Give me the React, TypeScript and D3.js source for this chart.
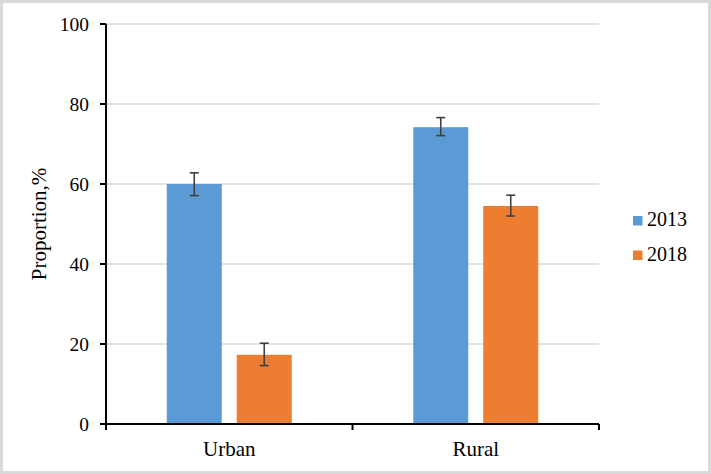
import * as d3 from 'd3'

const categories = ['Urban', 'Rural']
const seriesNames = ['2013', '2018']
const values2013 = [60, 74.2]
const values2018 = [17.3, 54.5]
const errLow2013 = [57.1, 72.1]
const errHigh2013 = [62.8, 76.6]
const errLow2018 = [14.6, 52]
const errHigh2018 = [20.2, 57.2]
const yTicks = [0, 20, 40, 60, 80, 100]

const colors = ['#5B9BD5', '#ED7D31']
const font = '"Liberation Serif", "Times New Roman", serif'

export default function App() {
  const width = 711
  const height = 474
  const margin = { top: 24, right: 112, bottom: 50, left: 106 }

  const x = d3.scaleBand()
    .domain(categories)
    .range([margin.left, width - margin.right])
    .padding(0)

  // two bars per category, 55px wide with a 15px gap
  const groupWidth = x.bandwidth() * 0.507
  const xs = d3.scaleBand()
    .domain(seriesNames)
    .range([-groupWidth / 2, groupWidth / 2])
    .paddingInner(0.214)
    .paddingOuter(0)

  const y = d3.scaleLinear()
    .domain([0, 100])
    .range([height - margin.bottom, margin.top])

  const series = [
    { name: '2013', values: values2013, lo: errLow2013, hi: errHigh2013 },
    { name: '2018', values: values2018, lo: errLow2018, hi: errHigh2018 },
  ]

  const x0 = margin.left
  const x1 = width - margin.right
  const y0 = y(0)
  const cap = 4.5

  return (
    <svg width={width} height={height} style={{ position: 'absolute', left: 0, top: 0 }}>
      <rect x={0} y={0} width={width} height={height} fill="#fff" />
      <rect x={1.5} y={1.5} width={width - 3} height={height - 3} fill="none" stroke="#d9d9d9" strokeWidth={3} />

      {/* gridlines */}
      {yTicks.filter(t => t > 0).map(t => (
        <line key={t} x1={x0} x2={x1} y1={y(t)} y2={y(t)} stroke="#d9d9d9" strokeWidth={1.5} />
      ))}

      {/* bars */}
      {series.map((s, si) => categories.map((c, ci) => {
        const cx = (x(c) as number) + x.bandwidth() / 2
        const bx = cx + (xs(s.name) as number)
        return (
          <rect key={s.name + c} x={bx} y={y(s.values[ci])} width={xs.bandwidth()}
            height={y0 - y(s.values[ci])} fill={colors[si]} />
        )
      }))}

      {/* error bars */}
      {series.map(s => categories.map((c, ci) => {
        const cx = (x(c) as number) + x.bandwidth() / 2 + (xs(s.name) as number) + xs.bandwidth() / 2
        return (
          <g key={'e' + s.name + c} stroke="#404040" strokeWidth={1.6}>
            <line x1={cx} x2={cx} y1={y(s.hi[ci])} y2={y(s.lo[ci])} />
            <line x1={cx - cap} x2={cx + cap} y1={y(s.hi[ci])} y2={y(s.hi[ci])} />
            <line x1={cx - cap} x2={cx + cap} y1={y(s.lo[ci])} y2={y(s.lo[ci])} />
          </g>
        )
      }))}

      {/* y axis */}
      <line x1={x0} x2={x0} y1={y(100)} y2={y0 + 6} stroke="#000" strokeWidth={2} />
      {yTicks.map(t => (
        <g key={'yt' + t}>
          <line x1={x0 - 6} x2={x0} y1={y(t)} y2={y(t)} stroke="#000" strokeWidth={2} />
          <text x={x0 - 17} y={y(t) + 7} textAnchor="end" fontFamily={font} fontSize={19.5} fill="#000">{t}</text>
        </g>
      ))}

      {/* x axis */}
      <line x1={x0 - 6} x2={x1} y1={y0} y2={y0} stroke="#000" strokeWidth={2} />
      {[...categories.map(c => x(c) as number), x1].map((v, i) => (
        <line key={'xt' + i} x1={v} x2={v} y1={y0} y2={y0 + 6} stroke="#000" strokeWidth={2} />
      ))}
      {categories.map(c => (
        <text key={'xl' + c} x={(x(c) as number) + x.bandwidth() / 2} y={456} textAnchor="middle"
          fontFamily={font} fontSize={21} fill="#000">{c}</text>
      ))}

      {/* y title */}
      <text transform={`translate(46,${(y(0) + y(100)) / 2}) rotate(-90)`} textAnchor="middle"
        fontFamily={font} fontSize={21} fill="#000">Proportion,%</text>

      {/* legend */}
      {seriesNames.map((n, i) => (
        <g key={'lg' + n} transform={`translate(633,${216 + i * 34.5})`}>
          <rect x={0} y={0} width={9.5} height={9.5} fill={colors[i]} />
          <text x={14} y={10} fontFamily={font} fontSize={20} fill="#000">{n}</text>
        </g>
      ))}
    </svg>
  )
}
